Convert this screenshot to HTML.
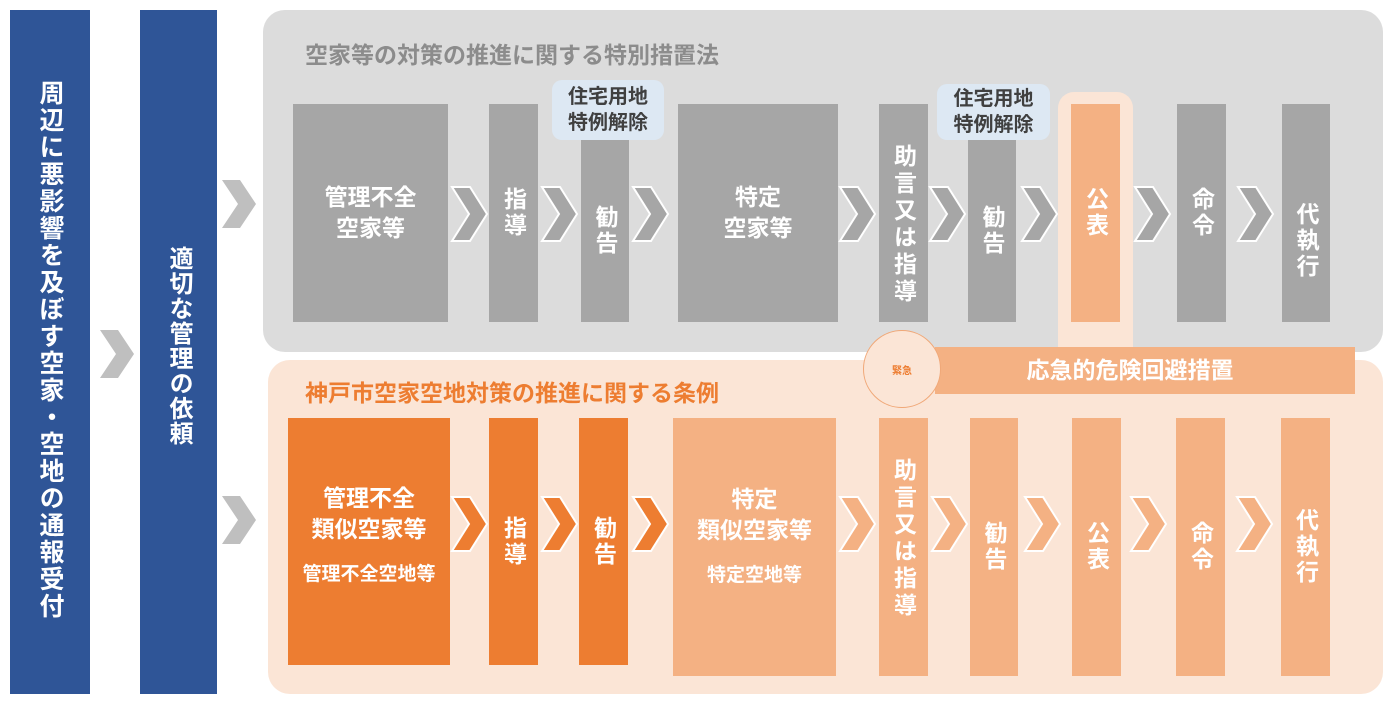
<!DOCTYPE html>
<html><head><meta charset="utf-8"><style>
body{margin:0;width:1392px;height:701px;background:#fff;position:relative;overflow:hidden;font-family:"Liberation Sans","Noto Sans CJK JP",sans-serif;font-weight:bold}
div{position:absolute;box-sizing:border-box}
.v{writing-mode:vertical-rl;color:#fff;display:flex;align-items:center;justify-content:center;font-size:23px;letter-spacing:3px}
.h{color:#fff;display:flex;flex-direction:column;align-items:center;justify-content:center;font-size:23px;text-align:center;line-height:31px}
.g{background:#a6a6a6}.o{background:#ed7d31}.l{background:#f4b183}
svg{position:absolute}
</style></head><body>
<div style="left:10px;top:10px;width:80px;height:684px;background:#2f5597"></div>
<div class="v" style="left:10px;top:80px;width:80px;height:600px;font-size:25px;justify-content:flex-start;letter-spacing:2px;white-space:nowrap">周辺に悪影響を及ぼす空家・空地の通報受付</div>
<div style="left:140px;top:10px;width:77px;height:684px;background:#2f5597"></div>
<div class="v" style="left:140px;top:246px;width:77px;height:220px;font-size:24px;justify-content:flex-start;letter-spacing:1px;white-space:nowrap">適切な管理の依頼</div>
<svg width="1392" height="701" style="left:0;top:0">
<polygon points="100,330 118,330 134,354 118,378 100,378 116,354" fill="#bfbfbf"/>
<polygon points="222,180 240,180 256,204 240,228 222,228 238,204" fill="#bfbfbf"/>
<polygon points="222,496 240,496 256,520 240,544 222,544 238,520" fill="#bfbfbf"/>
</svg>
<div style="left:263px;top:10px;width:1120px;height:342px;background:#dcdcdc;border-radius:22px"></div>
<div style="left:305px;top:36px;font-size:23px;color:#8c8c8c;white-space:nowrap">空家等の対策の推進に関する特別措置法</div>
<div style="left:268px;top:360px;width:1115px;height:334px;background:#fbe5d6;border-radius:22px"></div>
<div style="left:305px;top:374px;font-size:23px;color:#ed7d31;white-space:nowrap">神戸市空家空地対策の推進に関する条例</div>
<div style="left:1058px;top:92px;width:75px;height:280px;background:#fbe5d6;border-radius:16px"></div>
<div style="left:935px;top:347px;width:420px;height:47px;background:#f4b183"></div>
<div class="h" style="left:920px;top:347px;width:420px;height:47px;font-size:23px;letter-spacing:0px">応急的危険回避措置</div>
<div style="left:863px;top:330px;width:78px;height:78px;border-radius:50%;background:#fbe5d6;border:1px solid #f0a878;color:#ed7d31;font-size:10px;display:flex;align-items:center;justify-content:center">緊急</div>

<!-- top row -->
<div class="h g" style="left:293px;top:104px;width:155px;height:218px">管理不全<br>空家等</div>
<div class="v g" style="left:489px;top:104px;width:49px;height:218px">指導</div>
<div style="left:552px;top:80px;width:112px;height:60px;background:#dde8f3;border-radius:10px;color:#404040;font-size:20px;text-align:center;line-height:26px;padding-top:4px">住宅用地<br>特例解除</div>
<div class="v g" style="left:581px;top:140px;width:48px;height:182px">勧告</div>
<div class="h g" style="left:678px;top:104px;width:160px;height:218px">特定<br>空家等</div>
<div class="v g" style="left:879px;top:104px;width:49px;height:218px;justify-content:flex-start;padding-top:40px;letter-spacing:4px">助言又は指導</div>
<div style="left:937px;top:84px;width:113px;height:56px;background:#dde8f3;border-radius:10px;color:#404040;font-size:20px;text-align:center;line-height:26px;padding-top:2px">住宅用地<br>特例解除</div>
<div class="v g" style="left:968px;top:140px;width:48px;height:182px">勧告</div>
<div class="v l" style="left:1071px;top:104px;width:49px;height:218px">公表</div>
<div class="v g" style="left:1177px;top:104px;width:49px;height:218px">命令</div>
<div class="v g" style="left:1282px;top:104px;width:48px;height:218px;justify-content:flex-start;padding-top:98px">代執行</div>

<!-- bottom row -->
<div class="h o" style="left:288px;top:418px;width:162px;height:247px;padding-bottom:10px">管理不全<br>類似空家等<span style="font-size:19px;margin-top:14px">管理不全空地等</span></div>
<div class="v o" style="left:489px;top:418px;width:49px;height:247px">指導</div>
<div class="v o" style="left:579px;top:418px;width:49px;height:247px">勧告</div>
<div class="h l" style="left:673px;top:418px;width:163px;height:258px;padding-bottom:20px">特定<br>類似空家等<span style="font-size:19px;margin-top:14px">特定空地等</span></div>
<div class="v l" style="left:879px;top:418px;width:49px;height:258px;justify-content:flex-start;padding-top:40px;letter-spacing:4px">助言又は指導</div>
<div class="v l" style="left:970px;top:418px;width:48px;height:258px">勧告</div>
<div class="v l" style="left:1072px;top:418px;width:49px;height:258px">公表</div>
<div class="v l" style="left:1176px;top:418px;width:49px;height:258px">命令</div>
<div class="v l" style="left:1281px;top:418px;width:49px;height:258px;justify-content:flex-start;padding-top:90px">代執行</div>

<svg width="1392" height="701" style="left:0;top:0">
<g stroke="#fff" stroke-width="2" fill="#a6a6a6">
<polygon points="452,187 470,187 487,214 470,241 452,241 469,214"/>
<polygon points="542,187 560,187 577,214 560,241 542,241 559,214"/>
<polygon points="633,187 651,187 668,214 651,241 633,241 650,214"/>
<polygon points="840,187 858,187 875,214 858,241 840,241 857,214"/>
<polygon points="930,187 948,187 965,214 948,241 930,241 947,214"/>
<polygon points="1022,187 1040,187 1057,214 1040,241 1022,241 1039,214"/>
<polygon points="1135,187 1153,187 1170,214 1153,241 1135,241 1152,214"/>
<polygon points="1238,187 1256,187 1273,214 1256,241 1238,241 1255,214"/>
</g>
<g stroke="#fff" stroke-width="2" fill="#ed7d31">
<polygon points="452,497 470,497 487,524 470,551 452,551 469,524"/>
<polygon points="542,497 560,497 577,524 560,551 542,551 559,524"/>
<polygon points="633,497 651,497 668,524 651,551 633,551 650,524"/>
</g>
<g stroke="#fff" stroke-width="2" fill="#f4b183">
<polygon points="840,497 858,497 875,524 858,551 840,551 857,524"/>
<polygon points="932,497 950,497 967,524 950,551 932,551 949,524"/>
<polygon points="1025,497 1043,497 1060,524 1043,551 1025,551 1042,524"/>
<polygon points="1131,497 1149,497 1166,524 1149,551 1131,551 1148,524"/>
<polygon points="1237,497 1255,497 1272,524 1255,551 1237,551 1254,524"/>
</g>
</svg>
</body></html>
